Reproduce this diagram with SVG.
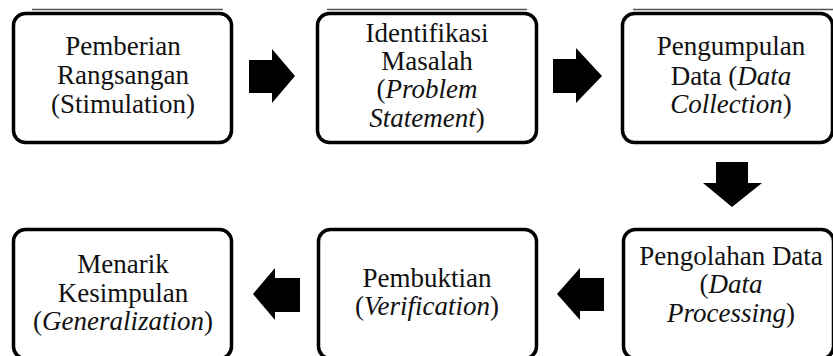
<svg xmlns="http://www.w3.org/2000/svg" width="833" height="356" viewBox="0 0 833 356">
<style>
.box{fill:#fff;stroke:#000;stroke-width:3.5}
.i{font-style:italic}
.arr{fill:#000}
.scan{stroke:#555;stroke-width:1.6}
</style>
<rect width="833" height="356" fill="#fff"/>
<g id="scanlines">
<line class="scan" x1="32" y1="9.5" x2="223" y2="9.5"/>
<line class="scan" x1="327" y1="9.5" x2="527" y2="9.5"/>
<line class="scan" x1="633" y1="9.5" x2="833" y2="9.5"/>
</g>
<g font-family="Liberation Serif, Tinos, DejaVu Serif, Noto Serif, serif" font-size="27" fill="#111" text-anchor="middle">
<g id="n1">
<rect class="box" x="13.5" y="13.5" width="218" height="129" rx="12"/>
<text x="123" y="55">Pemberian</text>
<text x="123" y="84">Rangsangan</text>
<text x="123" y="113">(Stimulation)</text>
</g>
<g id="n2">
<rect class="box" x="317.5" y="13.5" width="219" height="129" rx="12"/>
<text x="427" y="42">Identifikasi</text>
<text x="427" y="70">Masalah</text>
<text x="427" y="98">(<tspan class="i">Problem</tspan></text>
<text x="427" y="127"><tspan class="i">Statement</tspan>)</text>
</g>
<g id="n3">
<rect class="box" x="622.5" y="13.5" width="210" height="129" rx="12"/>
<text x="731" y="55">Pengumpulan</text>
<text x="731" y="85">Data (<tspan class="i">Data</tspan></text>
<text x="731" y="113"><tspan class="i">Collection</tspan>)</text>
</g>
<g id="n4">
<rect class="box" x="13.5" y="229.5" width="218" height="129" rx="12"/>
<text x="123" y="273">Menarik</text>
<text x="123" y="302">Kesimpulan</text>
<text x="123" y="330">(<tspan class="i">Generalization</tspan>)</text>
</g>
<g id="n5">
<rect class="box" x="318.5" y="229.5" width="218" height="129" rx="12"/>
<text x="427" y="287">Pembuktian</text>
<text x="427" y="315">(<tspan class="i">Verification</tspan>)</text>
</g>
<g id="n6">
<rect class="box" x="623.5" y="229.5" width="210" height="129" rx="12"/>
<text x="731" y="265">Pengolahan Data</text>
<text x="731" y="293">(<tspan class="i">Data</tspan></text>
<text x="731" y="322"><tspan class="i">Processing</tspan>)</text>
</g>
</g>
<g id="connectors">
<polygon class="arr" points="249,60 272,60 272,49 295,76 272,103 272,93 249,93"/>
<polygon class="arr" points="553,59 576,59 576,48 602,76 576,103 576,93 553,93"/>
<polygon class="arr" points="716,162 748,162 748,183 762,183 732,207 703,183 716,183"/>
<polygon class="arr" points="604,278 580,278 580,268 557,294 580,320 580,311 604,311"/>
<polygon class="arr" points="300,278 275,278 275,268 253,294 275,320 275,312 300,312"/>
</g>
</svg>
